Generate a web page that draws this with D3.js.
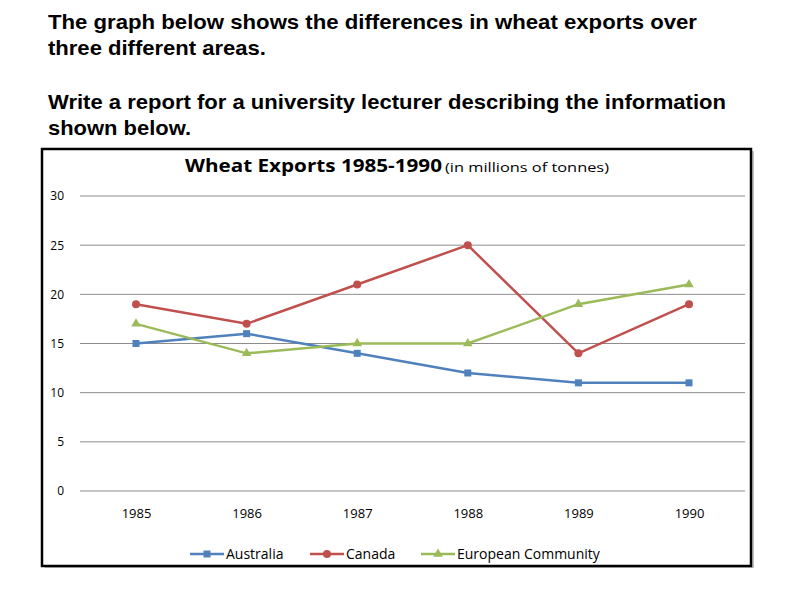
<!DOCTYPE html>
<html><head><meta charset="utf-8">
<script src="https://cdn.jsdelivr.net/npm/d3@7/dist/d3.min.js"></script>
<style>body{margin:0;background:#fff}</style>
</head><body>
<script>
const years = ["1985","1986","1987","1988","1989","1990"];
const australia = [15,16,14,12,11,11];
const canada = [19,17,21,25,14,19];
const europe = [17,14,15,15,19,21];
const yTicks = [0,5,10,15,20,25,30];
const series = [
  {name:"Australia", values:australia, color:"#4F81BD", marker:"square"},
  {name:"Canada", values:canada, color:"#C0504D", marker:"circle"},
  {name:"European Community", values:europe, color:"#9BBB59", marker:"triangle"}
];
const headerLines = [
  {t:"The graph below shows the differences  in wheat exports over", y:29, w:649},
  {t:"three different  areas.", y:55, w:218},
  {t:"Write a report for a university lecturer describing  the information", y:109, w:678},
  {t:"shown below.", y:135, w:143}
];

const svg = d3.select("body").append("svg").attr("width",800).attr("height",600);
svg.append("rect").attr("width",800).attr("height",600).attr("fill","#fff");

const hdr = svg.append("g").attr("font-family","Liberation Sans, Arial, sans-serif").attr("font-weight","bold").attr("font-size",21).attr("fill","#000");
hdr.selectAll("text").data(headerLines).join("text").attr("x",48).attr("y",d=>d.y)
  .attr("textLength",d=>d.w).attr("lengthAdjust","spacingAndGlyphs").text(d=>d.t);

// chart box
svg.append("rect").attr("x",45).attr("y",151).attr("width",709).attr("height",417).attr("fill","#888").attr("opacity",0.5);
svg.append("rect").attr("x",42).attr("y",149).attr("width",709).attr("height",417).attr("fill","#fff").attr("stroke","#000").attr("stroke-width",2.5);

const x = d3.scalePoint().domain(years).range([136,689]);
const y = d3.scaleLinear().domain([0,30]).range([491,196]);

const font = "'Open Sans', sans-serif";
// title
svg.append("text").attr("x",185).attr("y",172).attr("font-family",font).attr("font-weight","bold").attr("font-size",18)
  .attr("textLength",257).attr("lengthAdjust","spacingAndGlyphs").attr("fill","#000").text("Wheat Exports 1985-1990");
svg.append("text").attr("x",445).attr("y",172).attr("font-family",font).attr("font-size",13.5)
  .attr("textLength",164).attr("lengthAdjust","spacingAndGlyphs").attr("fill","#000").text("(in millions of tonnes)");

// gridlines
svg.append("g").selectAll("line").data(yTicks).join("line")
  .attr("x1",80).attr("x2",745).attr("y1",d=>y(d)).attr("y2",d=>y(d))
  .attr("stroke","#8c8c8c").attr("stroke-width",1);

// y axis labels
const yAxis = d3.axisLeft(y).tickValues(yTicks).tickSize(0).tickPadding(0);
const ya = svg.append("g").attr("transform","translate(64,0)").call(yAxis);
ya.select(".domain").remove();
ya.selectAll("text").attr("font-family",font).attr("font-size",12).attr("fill","#000");

// x axis labels
const xAxis = d3.axisBottom(x).tickSize(0).tickPadding(0);
const xa = svg.append("g").attr("transform","translate(0,509)").call(xAxis);
xa.select(".domain").remove();
xa.selectAll("text").attr("font-family",font).attr("font-size",13).attr("fill","#000");

const line = d3.line().x((d,i)=>x(years[i])).y(d=>y(d));
function drawMarker(g, type, color, s){
  if(type==="square") g.append("rect").attr("x",-s).attr("y",-s).attr("width",2*s).attr("height",2*s).attr("fill",color);
  else if(type==="circle") g.append("circle").attr("r",s+0.5).attr("fill",color);
  else g.append("path").attr("d",d3.symbol(d3.symbolTriangle, 40)()).attr("fill",color);
}
series.forEach(s=>{
  svg.append("path").datum(s.values).attr("d",line).attr("fill","none").attr("stroke",s.color).attr("stroke-width",2.5);
  s.values.forEach((v,i)=>{
    const g = svg.append("g").attr("transform",`translate(${x(years[i])},${y(v)})`);
    drawMarker(g, s.marker, s.color, 3.5);
  });
});

// legend
const legendX = [190, 310, 421];
series.forEach((s,i)=>{
  const g = svg.append("g").attr("transform",`translate(${legendX[i]},554)`);
  g.append("line").attr("x1",0).attr("x2",34).attr("stroke",s.color).attr("stroke-width",2.5);
  const m = g.append("g").attr("transform","translate(17,0)");
  drawMarker(m, s.marker, s.color, 3.5);
  g.append("text").attr("x",36).attr("y",5).attr("font-family",font).attr("font-size",14).attr("fill","#000").text(s.name);
});
</script>
</body></html>
